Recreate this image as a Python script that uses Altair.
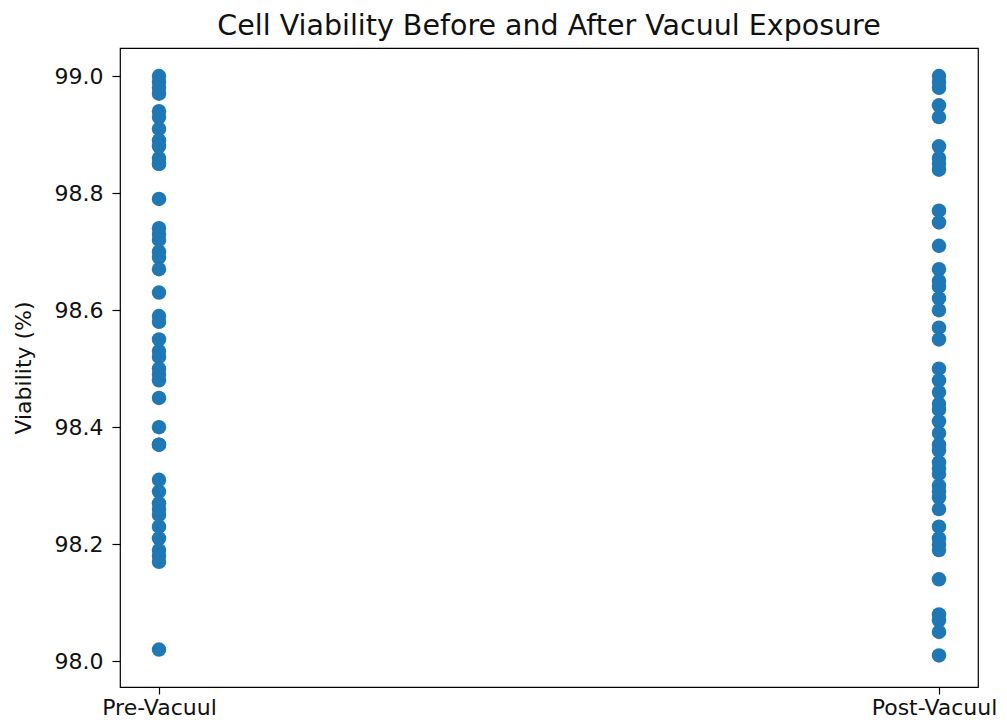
import altair as alt
import pandas as pd

pre_values = [99.00, 98.99, 98.98, 98.97, 98.94, 98.93, 98.91, 98.89, 98.88, 98.86,
              98.85, 98.85, 98.79, 98.74, 98.73, 98.72, 98.70, 98.69, 98.67, 98.63,
              98.59, 98.58, 98.55, 98.53, 98.52, 98.50, 98.49, 98.48, 98.45, 98.40,
              98.37, 98.37, 98.31, 98.29, 98.27, 98.26, 98.25, 98.23, 98.21, 98.19,
              98.18, 98.17, 98.02]
post_values = [99.00, 98.99, 98.98, 98.95, 98.93, 98.88, 98.86, 98.85, 98.84, 98.77,
               98.75, 98.71, 98.67, 98.65, 98.64, 98.62, 98.60, 98.57, 98.55, 98.50,
               98.48, 98.46, 98.44, 98.43, 98.41, 98.39, 98.37, 98.36, 98.34, 98.33,
               98.32, 98.30, 98.29, 98.28, 98.26, 98.23, 98.21, 98.20, 98.19, 98.14,
               98.08, 98.07, 98.05, 98.01]
categories = ["Pre-Vacuul", "Post-Vacuul"]
y_ticks = [98.0, 98.2, 98.4, 98.6, 98.8, 99.0]

df = pd.DataFrame({
    "Condition": [categories[0]] * len(pre_values) + [categories[1]] * len(post_values),
    "Viability": pre_values + post_values,
})

font = "DejaVu Sans"
tick_fs = 22

chart = alt.Chart(df).mark_circle(size=210, opacity=1, color="#1f77b4").encode(
    x=alt.X("Condition:N", sort=categories,
            scale=alt.Scale(type="point", padding=0.05),
            axis=alt.Axis(title=None, labelAngle=0, labelFontSize=tick_fs, labelFont=font,
                          labelColor="#111111", tickColor="black", tickSize=7,
                          tickWidth=1.2, domain=False, labelPadding=3,
                          labelOffset={"expr": "datum.label == 'Post-Vacuul' ? -5 : 0"})),
    y=alt.Y("Viability:Q",
            scale=alt.Scale(domain=[97.956, 99.048], nice=False, zero=False),
            axis=alt.Axis(title="Viability (%)", values=y_ticks, format=".1f",
                          labelFontSize=tick_fs, labelFont=font, labelColor="#111111",
                          titleFontSize=tick_fs, titleFont=font, titleFontWeight="normal",
                          titleColor="#111111", tickColor="black", tickSize=8,
                          tickWidth=1.2, domain=False, grid=False, labelPadding=9,
                          titlePadding=19)),
).properties(
    width=858,
    height=639,
    title=alt.TitleParams("Cell Viability Before and After Vacuul Exposure",
                          font=font, fontSize=28.5, fontWeight="normal",
                          color="#111111", offset=8),
    autosize=alt.AutoSizeParams(type="none"),
    padding={"left": 112, "top": 40, "right": 21, "bottom": 32},
).configure_view(
    stroke="black", strokeWidth=1.2
).configure_axis(grid=False)

chart.save("out.html", embed_options={"renderer": "svg", "actions": False})
